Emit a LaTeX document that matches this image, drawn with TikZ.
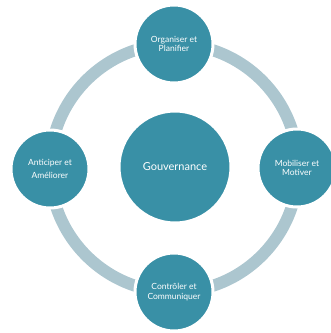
\documentclass[tikz,border=0pt]{standalone}
\usepackage{fontspec}
\setmainfont{Lato}
\definecolor{tealdark}{RGB}{57,144,166}
\definecolor{ringgrey}{RGB}{172,198,207}

\begin{document}
\begin{tikzpicture}[x=1pt, y=1pt,
    every node/.style={circle, fill=tealdark, draw=white, line width=3pt, text=white, align=center, inner sep=0pt},
    stage/.style={minimum size=78pt, font=\fontsize{8.5}{9.5}\selectfont},
    ringline/.style={draw=ringgrey, line width=12pt}]
                \useasboundingbox (0,0) rectangle (331,-333);
                \node[minimum size=112pt, font=\fontsize{11}{13}\selectfont] (gov) at (175,-167) {Gouvernance};
                \draw[ringline] (174,-168) circle[radius=124];
                \node[stage] (organiser) at (174,-44) {Organiser et\\Planifier};
                \node[stage] (mobiliser) at (297,-168) {Mobiliser et\\Motiver};
                \node[stage] (controler) at (174,-292) {Contrôler et\\Communiquer};
                \node[stage, font=\fontsize{8.5}{13}\selectfont] (anticiper) at (50,-169) {Anticiper et\\Améliorer};
            \end{tikzpicture}
\end{document}
